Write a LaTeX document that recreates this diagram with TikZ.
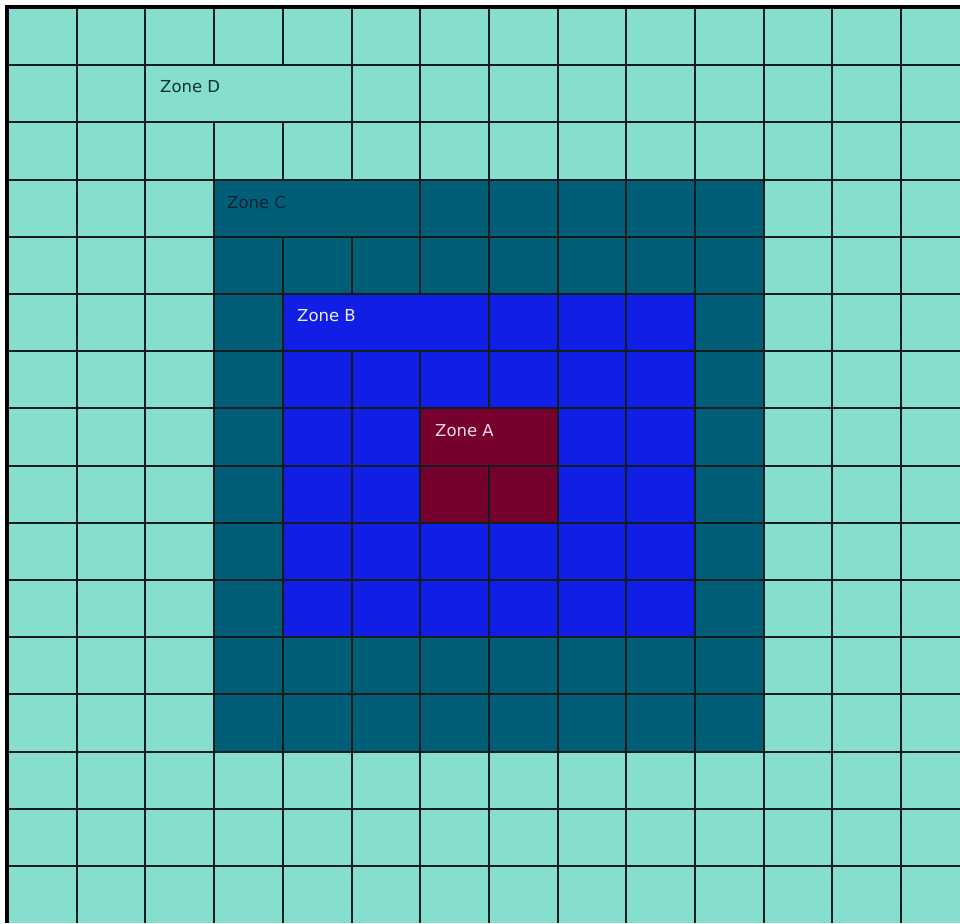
\documentclass[tikz,border=0pt]{standalone}
\usepackage{fontspec}
\setmainfont{DejaVu Sans}
\definecolor{mint}{RGB}{134,222,207}
\definecolor{zonec}{RGB}{0,94,119}
\definecolor{zoneb}{RGB}{16,30,230}
\definecolor{zonea}{RGB}{118,0,46}
\definecolor{gridline}{RGB}{20,28,28}
\tikzset{
  gline/.style={draw=gridline,line width=2pt},
  border/.style={draw=black,line width=4pt},
  zlabel/.style={anchor=base west,inner sep=0pt,font=\fontsize{16.5}{19}\selectfont},
}
\begin{document}
\begin{tikzpicture}[x=1pt,y=-1pt]
\useasboundingbox (0,0) rectangle (960,923);
\fill[white] (0,0) rectangle (960,923);
\def\cw{68.7}
\def\rh{57.2}
% background
\fill[mint] (8,8) rectangle (960,923);
% zones
\fill[zonec] (8+3*\cw,8+3*\rh) rectangle (8+11*\cw,8+13*\rh);
\fill[zoneb] (8+4*\cw,8+5*\rh) rectangle (8+10*\cw,8+11*\rh);
\fill[zonea] (8+6*\cw,8+7*\rh) rectangle (8+8*\cw,8+9*\rh);
% horizontal lines
\foreach \r in {1,...,15}{
  \draw[gline] (8,8+\r*\rh) -- (960,8+\r*\rh);
}
% vertical line segments (skipping merged cells)
\foreach \r in {0,...,15}{
  \foreach \k in {1,...,13}{
    \pgfmathtruncatemacro{\skipit}{(\r==1 && (\k==3 || \k==4)) || (\r==3 && (\k==4 || \k==5)) || (\r==5 && (\k==5 || \k==6)) || (\r==7 && \k==7)}
    \ifnum\skipit=0
      \draw[gline] (8+\k*\cw,8+\r*\rh) -- (8+\k*\cw,8+\r*\rh+\rh);
    \fi
  }
}
% outer borders (top, left)
\draw[border] (7,923) -- (7,7) -- (960,7);
% labels
\node[zlabel,text={rgb,255:red,20;green,50;blue,50}] (zd) at (160,93) {Zone D};
\node[zlabel,text={rgb,255:red,8;green,36;blue,48}] (zc) at (227,208) {Zone C};
\node[zlabel,text={rgb,255:red,235;green,235;blue,255}] (zb) at (297,321) {Zone B};
\node[zlabel,text={rgb,255:red,245;green,215;blue,230}] (za) at (435,436) {Zone A};
\end{tikzpicture}
\end{document}
